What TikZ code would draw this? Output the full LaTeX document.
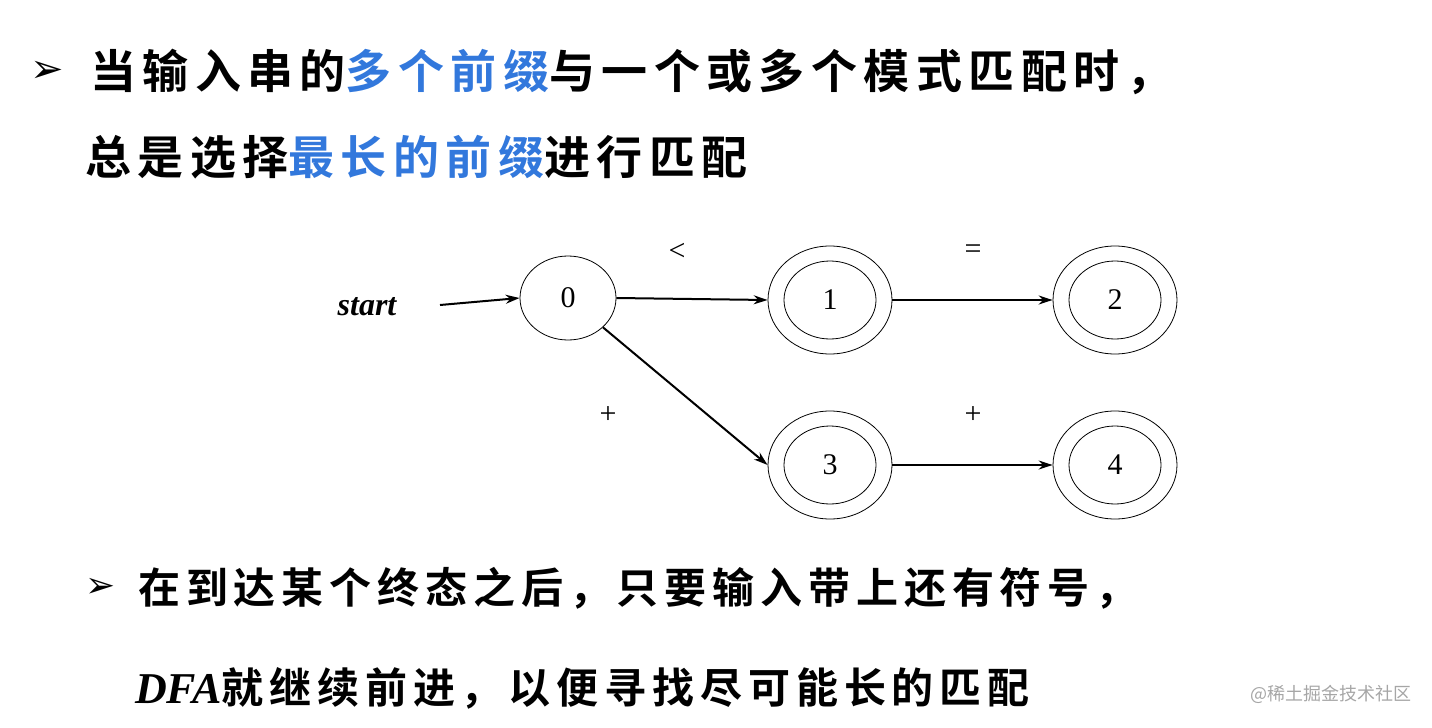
\documentclass[tikz,border=0pt]{standalone}
\usepackage{fontspec}
\setmainfont{Liberation Serif}
\newfontfamily\cjkb[LetterSpace=14]{Noto Sans CJK SC Bold}
\newfontfamily\wm{Noto Sans CJK SC}
\newfontfamily\sym{DejaVu Sans}
\usetikzlibrary{arrows.meta,shapes.geometric}
\definecolor{hl}{RGB}{50,120,220}
\begin{document}
\begin{tikzpicture}[x=1pt,y=-1pt,
  st/.style={draw,thick,ellipse,minimum width=96pt,minimum height=84pt,font=\fontsize{30}{30}\selectfont},
  acc/.style={draw,thick,ellipse,minimum width=124pt,minimum height=108pt,font=\fontsize{30}{30}\selectfont},
  inn/.style={draw,thick,ellipse,minimum width=92pt,minimum height=78pt},
  tr/.style={-{Stealth[length=14pt,width=9pt]},line width=2pt},
  lab/.style={font=\fontsize{30}{30}\selectfont},
  t1/.style={anchor=west,inner sep=0pt,font=\cjkb\fontsize{46}{46}\selectfont}]
\useasboundingbox (0,0) rectangle (1432,728);
\node[anchor=west,inner sep=0pt,font=\sym\fontsize{40}{40}\selectfont] (b1) at (30,72) {➢};
\node[t1] (l1) at (90,72) {当输入串的\textcolor{hl}{多个前缀}与一个或多个模式匹配时，};
\node[t1] (l2) at (85,157) {总是选择\textcolor{hl}{最长的前缀}进行匹配};
\node[st] (s0) at (568,298) {0};
\node[acc] (s1) at (830,300) {};\node[inn] (i1) at (s1) {};\node[lab] at (s1) {1};
\node[acc] (s2) at (1115,300) {};\node[inn] (i2) at (s2) {};\node[lab] at (s2) {2};
\node[acc] (s3) at (830,465) {};\node[inn] (i3) at (s3) {};\node[lab] at (s3) {3};
\node[acc] (s4) at (1115,465) {};\node[inn] (i4) at (s4) {};\node[lab] at (s4) {4};
\node[font=\bfseries\itshape\fontsize{32}{32}\selectfont] (start) at (367,307) {start};
\coordinate (sa) at (440,305);
\draw[tr] (sa) -- (s0.west);
\draw[tr] (s0.east) -- (s1.west);
\draw[tr] (s1.east) -- (s2.west);
\draw[tr] (s0.-40) -- (s3.west);
\draw[tr] (s3.east) -- (s4.west);
\node[lab] (la) at (677,252) {<};
\node[lab] (lb) at (973,252) {=};
\node[lab] (lc) at (608,415) {+};
\node[lab] (ld) at (973,415) {+};
\node[anchor=west,inner sep=0pt,font=\sym\fontsize{36}{36}\selectfont] (b2) at (85,588) {➢};
\node[anchor=west,inner sep=0pt,font=\cjkb\fontsize{42}{42}\selectfont] (l3) at (138,588) {在到达某个终态之后，只要输入带上还有符号，};
\node[anchor=west,inner sep=0pt,font=\cjkb\fontsize{42}{42}\selectfont] (l4) at (135,688) {{\fontspec{Liberation Serif}\bfseries\itshape\fontsize{44}{44}\selectfont DFA}就继续前进，以便寻找尽可能长的匹配};
\node[anchor=west,inner sep=0pt,text=gray!70,font=\wm\fontsize{18}{18}\selectfont] (wm) at (1250,694) {@稀土掘金技术社区};
\end{tikzpicture}
\end{document}
